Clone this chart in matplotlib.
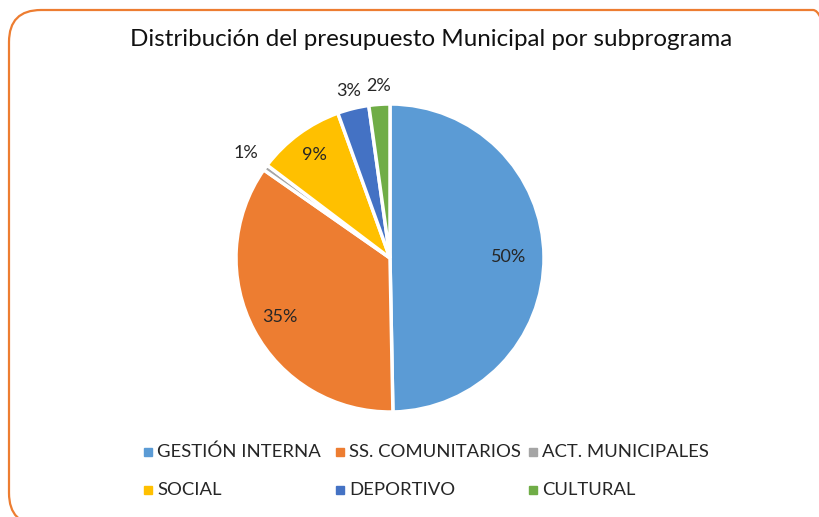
import matplotlib
matplotlib.use("Agg")
import matplotlib.pyplot as plt
from matplotlib.patches import FancyBboxPatch
import numpy as np

categories = ["GESTIÓN INTERNA", "SS. COMUNITARIOS", "ACT. MUNICIPALES",
              "SOCIAL", "DEPORTIVO", "CULTURAL"]
values = [49.7, 35.0, 0.6, 9.2, 3.3, 2.2]
labels = ["50%", "35%", "1%", "9%", "3%", "2%"]
colors = ["#5B9BD5", "#ED7D31", "#A5A5A5", "#FFC000", "#4472C4", "#70AD47"]
label_r = [0.77, 0.81, 1.16, 0.83, 1.12, 1.12]

plt.rcParams['font.family'] = ['Lato', 'DejaVu Sans']

W, H = 820, 517
fig = plt.figure(figsize=(W / 100, H / 100), dpi=100)

# background axes in pixel coordinates (origin bottom-left)
bg = fig.add_axes([0, 0, 1, 1])
bg.set_xlim(0, W)
bg.set_ylim(0, H)
bg.axis("off")


def py(y):
    """convert a top-down pixel row into the bottom-up axes coordinate"""
    return H - y


border = FancyBboxPatch((9, py(525)), 836, 515,
                        boxstyle="round,pad=0,rounding_size=32",
                        fc="none", ec="#ED7D31", lw=1.6, clip_on=False)
bg.add_patch(border)

# pie axes: center (390, 258), radius ~154 px
R = 154
cx, cy = 390, 258
ax = fig.add_axes([(cx - R) / W, (H - cy - R) / H, 2 * R / W, 2 * R / H])
wedges, _ = ax.pie(values, colors=colors, startangle=90, counterclock=False,
                   wedgeprops=dict(edgecolor="white", linewidth=2.5), radius=1.0)
ax.set_xlim(-1, 1)
ax.set_ylim(-1, 1)
ax.set_aspect("equal")
ax.axis("off")

for w, lab, r in zip(wedges, labels, label_r):
    ang = np.deg2rad((w.theta1 + w.theta2) / 2)
    ax.text(r * np.cos(ang), r * np.sin(ang), lab, ha="center", va="center",
            fontsize=13, color="#262626", clip_on=False)

bg.text(431, py(40), "Distribución del presupuesto Municipal por subprograma",
        ha="center", va="center", fontsize=17.4, color="#111111")

# legend: 3 equal-width columns, 2 rows (Excel style)
for i, (cat, c) in enumerate(zip(categories, colors)):
    col, row = i % 3, i // 3
    x = 148 + 192.5 * col
    y = 452 + 38 * row
    bg.plot([x], [py(y)], marker="s", markersize=6, color=c, linestyle="none")
    bg.text(x + 9, py(y), cat, ha="left", va="center", fontsize=13.3, color="#262626")

fig.savefig("out.png", dpi=100)
